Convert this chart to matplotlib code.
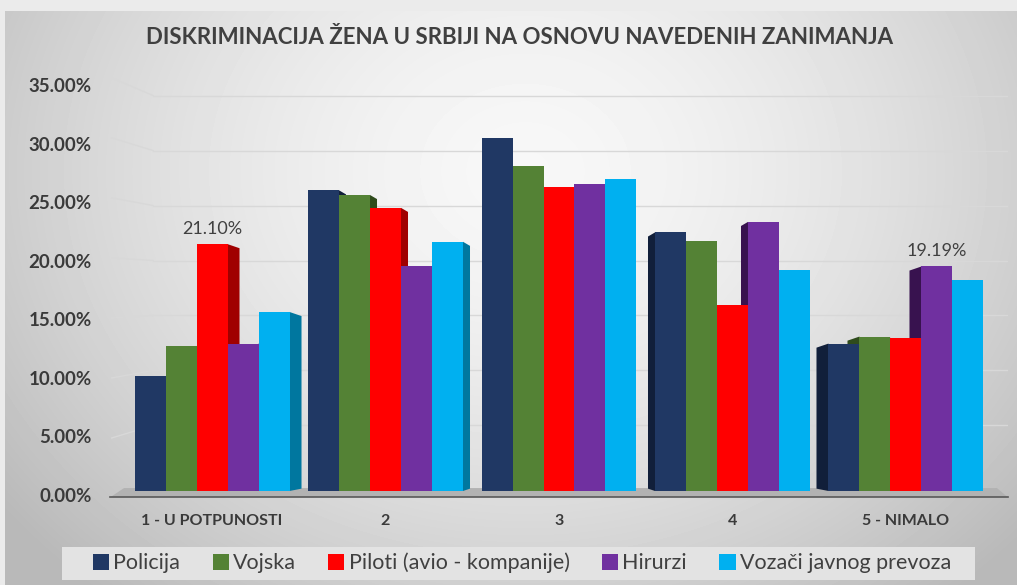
import numpy as np
import matplotlib
matplotlib.use("Agg")
import matplotlib.pyplot as plt
from matplotlib.patches import Polygon, Patch, Rectangle
from matplotlib.transforms import ScaledTranslation

plt.rcParams["font.family"] = ["Lato", "DejaVu Sans"]

# data (percent)
categories = ["1 - U POTPUNOSTI", "2", "3", "4", "5 - NIMALO"]
series = ["Policija", "Vojska", "Piloti (avio - kompanije)", "Hirurzi",
          "Vozači javnog prevoza"]
policija = [9.8, 25.7, 30.2, 22.1, 12.6]
vojska = [12.4, 25.3, 27.8, 21.4, 13.2]
piloti = [21.10, 24.2, 26.0, 15.9, 13.1]
hirurzi = [12.6, 19.2, 26.2, 23.0, 19.19]
vozaci = [15.3, 21.3, 26.7, 18.9, 18.0]
yticks = [0, 5, 10, 15, 20, 25, 30, 35]

values = [policija, vojska, piloti, hirurzi, vozaci]
front_colors = ["#203864", "#548235", "#ff0000", "#7030a0", "#00b0f0"]
side_colors = ["#111f3a", "#2f4b1c", "#a00000", "#38124f", "#00779f"]
labelled = [(2, 0), (3, 4)]  # (series, category) with data labels

W, H = 1017, 585
fig = plt.figure(figsize=(W / 100, H / 100), dpi=100)
fig.patch.set_facecolor("#ebebeb")

# slide background with soft radial shading
bg = fig.add_axes([5 / W, 0, 1 - 5 / W, 1 - 11 / H])
yy, xx = np.mgrid[0:574, 0:1012]
r = np.sqrt(((xx - 520) / 600) ** 2 + ((yy - 160) / 500) ** 2)
shade = 0.97 - 0.21 * np.clip(r, 0, 1.1) ** 1.6
bg.imshow(shade, cmap="gray", vmin=0, vmax=1, aspect="auto")
bg.axis("off")

# main plot area
ax = fig.add_axes([110 / W, 0.1497, 898 / W, 0.731])
ax.patch.set_alpha(0)
x0, x1 = -0.588, 4.588
ax.set_xlim(x0, x1)
ax.set_ylim(-0.55, 36)

px = 173.5  # pixels per category unit
bw = 31 / px
x = np.arange(len(categories))

# gridlines (slight perspective stub on the left)
for v in yticks[1:]:
    back = 0.94 * v + 0.9
    ax.plot([x0 + 0.01, x0 + 43 / px], [1.026 * v - 0.6, back],
            color="#d8d8d8", lw=1, zorder=1)
    ax.plot([x0 + 43 / px, x1], [back, back], color="#d8d8d8", lw=1, zorder=1)

# floor
ax.add_patch(Polygon([(x0, -0.55), (x1, -0.55), (x1 - 11 / px, 0.25),
                      (x0 + 14 / px, 0.25)], closed=True,
                     facecolor="#b2b2b2", edgecolor="none", zorder=1))

# side faces first, front faces on top
depth = [12, 7, 0, -7, -12]
for i, vals in enumerate(values):
    pos = x + (i - 2) * bw
    for g, (p, v) in enumerate(zip(pos, vals)):
        d = depth[g] / px
        if d == 0:
            continue
        edge = p + bw / 2 if d > 0 else p - bw / 2
        ax.add_patch(Polygon([(edge, 0), (edge, v), (edge + d, v - 0.35),
                              (edge + d, 0.2)], closed=True,
                             facecolor=side_colors[i], edgecolor="none",
                             zorder=2))
for i, vals in enumerate(values):
    ax.bar(x + (i - 2) * bw, vals, width=bw, color=front_colors[i],
           linewidth=0, zorder=3)

for s, c in labelled:
    v = values[s][c]
    ax.text(x[c] + (s - 2) * bw, v + 0.6, f"{v:.2f}%", ha="center",
            va="bottom", fontsize=13, color="#404040", zorder=4)

for side in ["top", "right", "left"]:
    ax.spines[side].set_visible(False)
ax.spines["bottom"].set_color("#595959")
ax.spines["bottom"].set_linewidth(1.2)

ax.set_xticks(x)
ax.set_xticklabels(categories, fontsize=11.5, fontweight="bold", color="#3a3a3a")
ax.set_yticks(yticks)
ax.set_yticklabels([f"{v:.2f}%" for v in yticks], fontsize=13.5,
                   fontweight="bold", color="#3a3a3a")
ax.tick_params(axis="x", length=0, pad=12)
ax.tick_params(axis="y", length=0, pad=13)
shift = ScaledTranslation(0, -4 / 100, fig.dpi_scale_trans)
for lab in ax.get_yticklabels():
    lab.set_transform(lab.get_transform() + shift)

fig.text(520 / W, 1 - 38 / H, "DISKRIMINACIJA ŽENA U SRBIJI NA OSNOVU NAVEDENIH ZANIMANJA",
         ha="center", va="center", fontsize=16, fontweight="bold", color="#404040")

# legend band
fig.patches.append(Rectangle((62 / W, 1 - 580 / H), 913 / W, 33 / H,
                             transform=fig.transFigure, facecolor="#e3e3e3",
                             edgecolor="none", zorder=0))
handles = [Patch(facecolor=c, edgecolor="none") for c in front_colors]
fig.legend(handles, series, loc="center", bbox_to_anchor=(522 / W, 1 - 563 / H),
           ncol=5, frameon=False, handlelength=0.75, handleheight=0.75,
           handletextpad=0.2, columnspacing=1.5,
           prop={"size": 15.5}, labelcolor="#404040")

fig.savefig("out.png", dpi=100)
